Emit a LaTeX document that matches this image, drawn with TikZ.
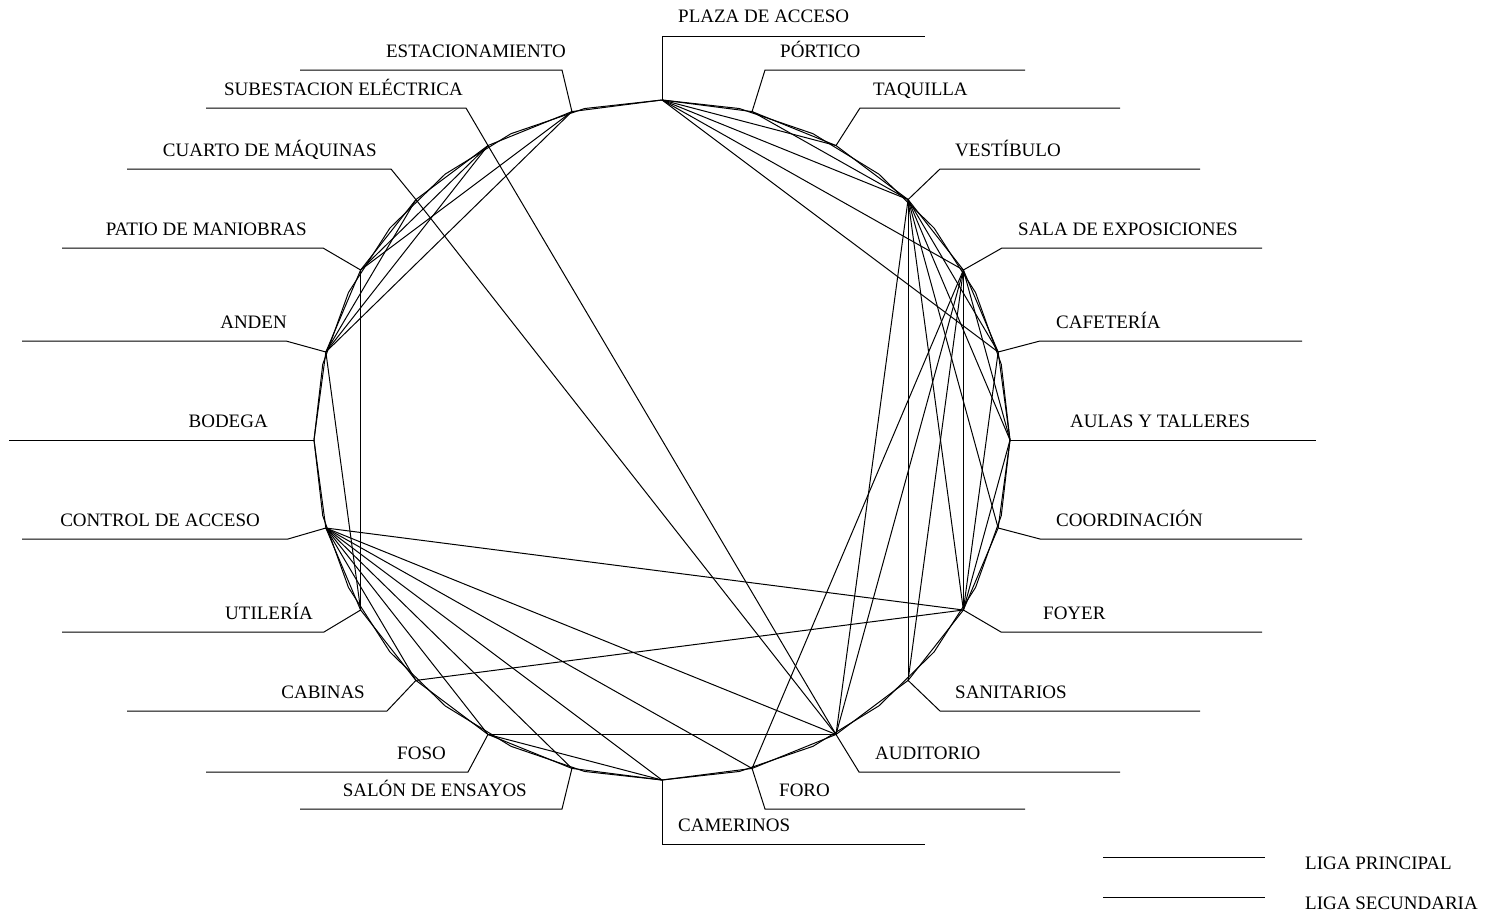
\documentclass[tikz,border=0pt]{standalone}
\usepackage{fontspec}
\setmainfont{Liberation Serif}
\usetikzlibrary{positioning}

\begin{document}
\begin{tikzpicture}[
    x=1pt, y=-1pt,
    font=\fontsize{19}{22}\selectfont,
    liga/.style={line width=1pt},
    leader/.style={line width=1pt},
    rlabel/.style={anchor=base west, inner sep=0pt},
    llabel/.style={anchor=base east, inner sep=0pt},
  ]
  \useasboundingbox (0,0) rectangle (1492,918);

  % ============================================================
  % Spaces: 24 points round the ring, clockwise from the top
  % ============================================================
  \foreach \k in {0,...,23} {
    \coordinate (v\k) at ({662+348*sin(15*\k)}, {440-340*cos(15*\k)});
  }

  % outer ring, drawn as a 28-sided polygon
  \draw[liga] plot[samples=29, domain=0:360, variable=\a]
    ({662+348*sin(\a)}, {440+340*cos(\a)});

  % sides between neighbouring spaces
  \foreach \k in {0,...,23} {
    \pgfmathtruncatemacro\nxt{mod(\k+1,24)}
    \draw[liga] (v\k) -- (v\nxt);
  }

  % ============================================================
  % Links between spaces
  % ============================================================
  \foreach \a/\b in {0/2, 0/3, 0/4, 0/5, 1/3,
                     3/5, 3/6, 3/7, 3/8, 3/9, 3/10,
                     4/6, 4/8, 4/9, 4/10, 4/11,
                     5/8, 6/8, 8/15, 8/17,
                     10/14, 10/17, 10/21, 10/22,
                     11/17, 12/14, 12/17, 13/17, 14/17, 15/17,
                     16/19, 16/20,
                     19/21, 19/22, 19/23, 20/22, 20/23} {
    \draw[liga] (v\a) -- (v\b);
  }

  % ============================================================
  % Labels, right half: space / knee x / line y / end x / text x
  % ============================================================
  \foreach \k/\kx/\uy/\fx/\tx/\txt in {
      0/662/36/925/678/PLAZA DE ACCESO,
      1/765/70/1025/780/PÓRTICO,
      2/860/108/1120/873/TAQUILLA,
      3/940/169/1200/955/VESTÍBULO,
      4/1002/248/1262/1018/SALA DE EXPOSICIONES,
      5/1040/341/1302/1056/CAFETERÍA,
      6/1010/440/1316/1070/AULAS Y TALLERES,
      7/1040/539/1302/1056/COORDINACIÓN,
      8/1001/632/1262/1043/FOYER,
      9/940/711/1200/955/SANITARIOS,
      10/859/772/1120/875/AUDITORIO,
      11/765/809/1025/779/FORO,
      12/662/844/925/678/CAMERINOS} {
    \draw[leader] (v\k) -- (\kx,\uy) coordinate (knee\k) -- (\fx,\uy) coordinate (tail\k);
    \node[rlabel] (lbl\k) at (\tx,\uy-13) {\txt};
  }

  % Labels, left half
  \foreach \k/\kx/\uy/\fx/\tx/\txt in {
      13/562/809/300/527/SALÓN DE ENSAYOS,
      14/468/772/206/446/FOSO,
      15/387/711/127/365/CABINAS,
      16/324/632/62/313/UTILERÍA,
      17/288/539/22/260/CONTROL DE ACCESO,
      18/314/440/9/268/BODEGA,
      19/286/341/22/287/ANDEN,
      20/323/248/62/307/PATIO DE MANIOBRAS,
      21/391/169/127/377/CUARTO DE MÁQUINAS,
      22/466/108/206/463/SUBESTACION ELÉCTRICA,
      23/562/70/300/566/ESTACIONAMIENTO} {
    \draw[leader] (v\k) -- (\kx,\uy) coordinate (knee\k) -- (\fx,\uy) coordinate (tail\k);
    \node[llabel] (lbl\k) at (\tx,\uy-13) {\txt};
  }

  % ============================================================
  % Legend
  % ============================================================
  \coordinate (ligap-a) at (1103,857);
  \coordinate (ligap-b) at (1265,857);
  \coordinate (ligas-a) at (1103,897);
  \coordinate (ligas-b) at (1265,897);
  \draw[liga] (ligap-a) -- (ligap-b);
  \draw[liga] (ligas-a) -- (ligas-b);
  \node[rlabel] (ligap) at (1305,869) {LIGA PRINCIPAL};
  \node[rlabel] (ligas) at (1305,909) {LIGA SECUNDARIA};

\end{tikzpicture}
\end{document}
